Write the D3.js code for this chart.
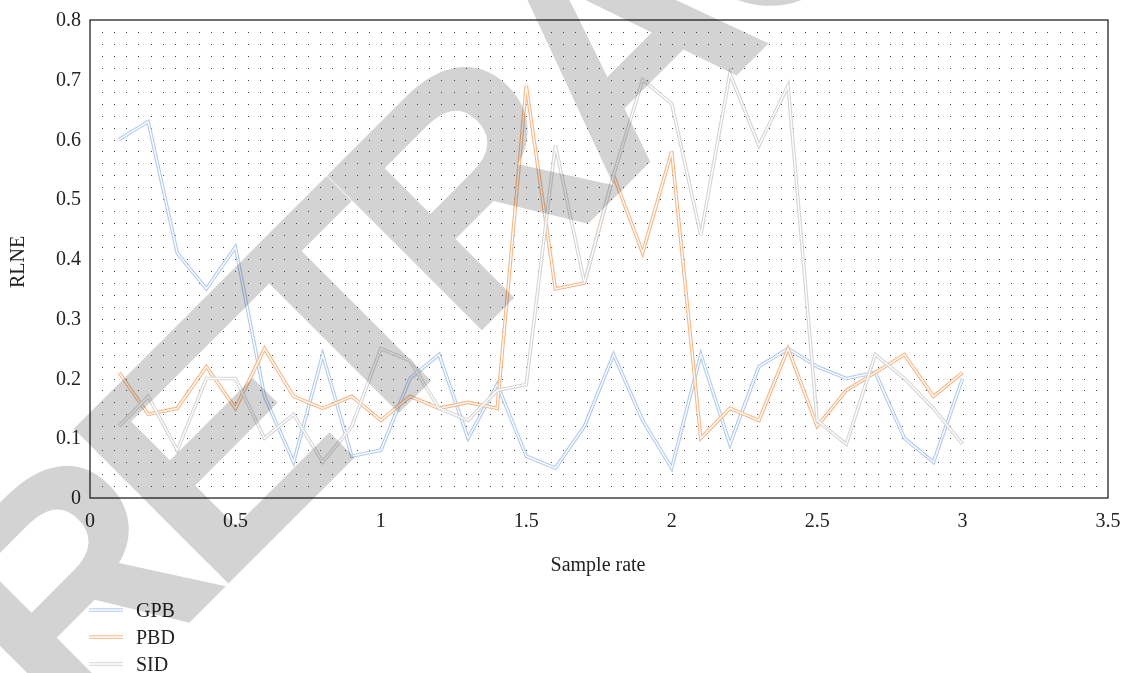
<!DOCTYPE html>
<html>
<head>
<meta charset="utf-8">
<script src="https://cdn.jsdelivr.net/npm/d3@7"></script>
<style>
  body { margin: 0; background: #fff; }
  svg { display: block; font-family: "Liberation Serif", serif; }
  .watermark { mix-blend-mode: multiply; }
</style>
</head>
<body>
<svg width="1124" height="673"></svg>
<script>
// sample rates on the x axis
const sampleRate = [0.1, 0.2, 0.3, 0.4, 0.5, 0.6, 0.7, 0.8, 0.9, 1.0,
                    1.1, 1.2, 1.3, 1.4, 1.5, 1.6, 1.7, 1.8, 1.9, 2.0,
                    2.1, 2.2, 2.3, 2.4, 2.5, 2.6, 2.7, 2.8, 2.9, 3.0];

const gpb = [0.60, 0.63, 0.41, 0.35, 0.42, 0.17, 0.06, 0.24, 0.07, 0.08,
             0.20, 0.24, 0.10, 0.19, 0.07, 0.05, 0.12, 0.24, 0.13, 0.05,
             0.24, 0.09, 0.22, 0.25, 0.22, 0.20, 0.21, 0.10, 0.06, 0.20];
const pbd = [0.21, 0.14, 0.15, 0.22, 0.15, 0.25, 0.17, 0.15, 0.17, 0.13,
             0.17, 0.15, 0.16, 0.15, 0.69, 0.35, 0.36, 0.54, 0.41, 0.58,
             0.10, 0.15, 0.13, 0.25, 0.12, 0.18, 0.21, 0.24, 0.17, 0.21];
const sid = [0.12, 0.17, 0.08, 0.20, 0.20, 0.10, 0.14, 0.06, 0.12, 0.25,
             0.23, 0.15, 0.13, 0.18, 0.19, 0.59, 0.36, 0.54, 0.70, 0.66,
             0.44, 0.71, 0.59, 0.69, 0.13, 0.09, 0.24, 0.20, 0.15, 0.09];

const seriesNames = ['GPB', 'PBD', 'SID'];
const xTicks = [0, 0.5, 1, 1.5, 2, 2.5, 3, 3.5];
const yTicks = [0, 0.1, 0.2, 0.3, 0.4, 0.5, 0.6, 0.7, 0.8];

const colors = {GPB: '#b3ccf0', PBD: '#f8b98a', SID: '#d6d6d6'};

const series = [
    {name: 'GPB', values: gpb},
    {name: 'PBD', values: pbd},
    {name: 'SID', values: sid}
];

const svg = d3.select('svg');
const plotLeft = 90, plotRight = 1108, plotTop = 20, plotBottom = 498;
const fontSize = 20;

const xScale = d3.scaleLinear().domain([0, 3.5]).range([plotLeft, plotRight]);
const yScale = d3.scaleLinear().domain([0, 0.8]).range([plotBottom, plotTop]);

// dotted grid: one dot per 1/24 on x and 0.02 on y
const gx = d3.range(1, 84).map(k => k / 24);
const gy = d3.range(1, 40).map(k => k * 0.02);
const dots = svg.append('g');
gy.forEach(yv => {
    dots.selectAll(null)
        .data(gx)
        .enter()
        .append('rect')
        .attr('x', d => Math.round(xScale(d)))
        .attr('y', Math.round(yScale(yv)))
        .attr('width', 1)
        .attr('height', 1)
        .attr('fill', '#444');
});

// frame
svg.append('rect')
    .attr('x', plotLeft).attr('y', plotTop)
    .attr('width', plotRight - plotLeft).attr('height', plotBottom - plotTop)
    .attr('fill', 'none').attr('stroke', '#111').attr('stroke-width', 1.2);

// tick labels
svg.append('g').selectAll('text')
    .data(xTicks)
    .enter()
    .append('text')
    .attr('x', d => xScale(d))
    .attr('y', plotBottom + 29)
    .attr('text-anchor', 'middle')
    .attr('font-size', fontSize)
    .attr('fill', '#222')
    .text(d => d);

svg.append('g').selectAll('text')
    .data(yTicks)
    .enter()
    .append('text')
    .attr('x', 81)
    .attr('y', d => yScale(d) + 6)
    .attr('text-anchor', 'end')
    .attr('font-size', fontSize)
    .attr('fill', '#222')
    .text(d => d);

svg.append('text')
    .attr('x', xScale(1.75) - 1)
    .attr('y', 571)
    .attr('text-anchor', 'middle')
    .attr('font-size', fontSize)
    .attr('fill', '#222')
    .text('Sample rate');

svg.append('text')
    .attr('transform', 'translate(24,262) rotate(-90)')
    .attr('text-anchor', 'middle')
    .attr('font-size', fontSize)
    .attr('fill', '#222')
    .text('RLNE');

// double lines: coloured stroke with a white core
const line = d3.line()
    .x((d, i) => xScale(sampleRate[i]))
    .y(d => yScale(d));

const lines = svg.append('g');
series.forEach(s => {
    lines.append('path')
        .attr('d', line(s.values))
        .attr('fill', 'none')
        .attr('stroke', colors[s.name])
        .attr('stroke-width', 3.6)
        .attr('stroke-linejoin', 'miter');
    lines.append('path')
        .attr('d', line(s.values))
        .attr('fill', 'none')
        .attr('stroke', '#fff')
        .attr('stroke-width', 1.3)
        .attr('stroke-linejoin', 'miter');
});

// legend
const legend = svg.append('g')
    .selectAll('g')
    .data(seriesNames)
    .enter()
    .append('g')
    .attr('transform', (d, i) => `translate(89,${610 + i * 27})`);
legend.append('line')
    .attr('x1', 0).attr('x2', 34)
    .attr('stroke', d => colors[d]).attr('stroke-width', 3.6);
legend.append('line')
    .attr('x1', 0).attr('x2', 34)
    .attr('stroke', '#fff').attr('stroke-width', 1.3);
legend.append('text')
    .attr('x', 47)
    .attr('y', 7)
    .attr('font-size', fontSize)
    .attr('fill', '#222')
    .text(d => d);

// retraction watermark over everything
svg.append('text')
    .classed('watermark', true)
    .attr('transform', 'translate(68,744) rotate(-45)')
    .attr('font-family', '"Liberation Sans", Arial, sans-serif')
    .attr('font-weight', 'bold')
    .attr('font-size', 318)
    .attr('letter-spacing', -24)
    .attr('fill', '#d3d3d3')
    .text('RETRACTED');
</script>
</body>
</html>
